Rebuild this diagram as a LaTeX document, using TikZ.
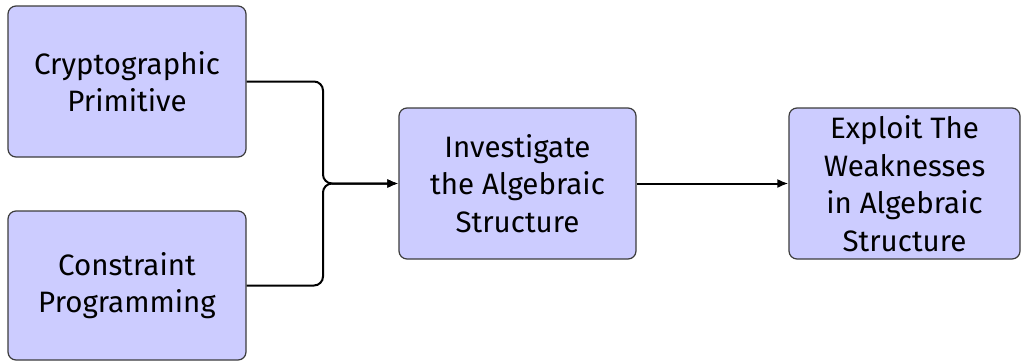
\documentclass[tikz,border=0pt]{standalone}
\usepackage{fontspec}
\setmainfont{Fira Sans}
\usetikzlibrary{arrows.meta}
\definecolor{boxfill}{RGB}{204,204,255}
\definecolor{boxline}{RGB}{60,60,60}
\tikzset{
  stagebox/.style={draw=boxline, line width=1.2pt, fill=boxfill, rounded corners=8pt,
    align=center, inner sep=0pt, font=\fontsize{29.5}{37.5}\selectfont},
  flow/.style={line width=2pt, -{Latex[length=11pt,width=9pt]}, rounded corners=9pt}
}
\begin{document}
\begin{tikzpicture}[x=1pt,y=-1pt]
  \useasboundingbox (0,0) rectangle (1022,362);
  % input boxes
  \node[stagebox, minimum width=238pt, minimum height=151pt] (prim) at (127,81.5) {Cryptographic\\Primitive};
  \node[stagebox, minimum width=238pt, minimum height=149pt] (cp) at (127,285.5) {Constraint\\Programming};
  % processing stages
  \node[stagebox, minimum width=237pt, minimum height=151pt] (inv) at (517.5,183.5) {Investigate\\the Algebraic\\Structure};
  \node[stagebox, minimum width=231pt, minimum height=151pt] (expl) at (904.5,183.5) {Exploit The\\Weaknesses\\in Algebraic\\Structure};
  % merge point
  \coordinate (join) at (323,183.5);
  \draw[flow] (prim.east) -| (join) -- (inv.west);
  \draw[flow] (cp.east) -| (join) -- (inv.west);
  \draw[flow] (inv.east) -- (expl.west);
\end{tikzpicture}
\end{document}
